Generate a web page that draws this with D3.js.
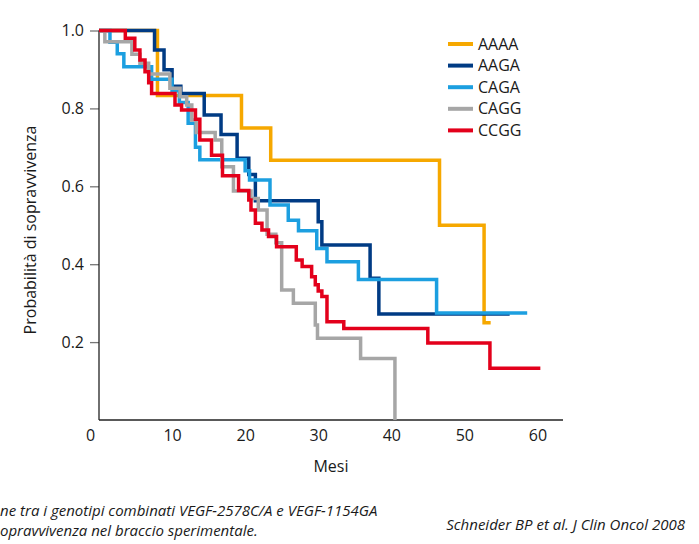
<!DOCTYPE html>
<html lang="it">
<head>
<meta charset="UTF-8">
<title>Sopravvivenza per genotipo</title>
<script src="https://d3js.org/d3.v7.min.js"></script>
<style>
  body { margin: 0; background: #fff; }
  text { font-family: "Liberation Sans Narrow", "Open Sans", sans-serif; fill: #1a1a1a; }
</style>
</head>
<body>
<div id="chart"></div>
<script>
// series: [mesi, probabilita] step points, last point = end of follow-up
const groups = ["AAAA", "AAGA", "CAGA", "CAGG", "CCGG"];
const colors = ["#f6a800", "#003b84", "#1c9fe0", "#a6a6a6", "#e3001b"];

const aaaa = [[0,1],[8.0,0.833],[19.5,0.75],[23.5,0.667],[46.6,0.5],[52.7,0.25],[53.6,0.25]];
const aaga = [[0,1],[7.6,0.95],[8.9,0.899],[10.0,0.857],[11.2,0.838],[14.4,0.783],[16.7,0.733],
  [18.9,0.672],[20.5,0.63],[21.4,0.563],[30.0,0.509],[30.5,0.449],[37.1,0.364],[38.3,0.272],[56.2,0.272]];
const caga = [[0,1],[1.5,0.97],[2.5,0.94],[3.4,0.907],[7.2,0.875],[10.0,0.845],[11.0,0.815],[12.2,0.762],
  [13.2,0.70],[13.8,0.668],[20.0,0.64],[20.6,0.616],[23.4,0.552],[25.9,0.513],[27.3,0.486],[29.8,0.44],
  [31.2,0.406],[35.5,0.361],[46.2,0.275],[58.6,0.275]];
const cagg = [[0,1],[0.8,0.971],[4.5,0.939],[5.6,0.916],[6.8,0.888],[9.7,0.852],[11.1,0.83],[12.0,0.809],
  [12.7,0.77],[13.3,0.738],[15.9,0.719],[16.8,0.65],[18.4,0.588],[20.8,0.569],[21.8,0.539],[23.0,0.477],
  [24.2,0.455],[25.0,0.334],[26.6,0.30],[29.6,0.244],[29.9,0.21],[35.8,0.158],[40.5,0]];
const ccgg = [[0,1],[3.6,0.98],[4.9,0.95],[5.6,0.924],[6.3,0.894],[6.8,0.866],[7.2,0.838],[10.4,0.809],
  [11.3,0.796],[13.2,0.772],[13.8,0.719],[15.4,0.68],[16.9,0.627],[19.1,0.589],[20.5,0.565],[20.8,0.539],
  [21.4,0.505],[22.3,0.488],[23.2,0.471],[24.3,0.445],[27.0,0.411],[27.8,0.394],[29.1,0.368],[29.6,0.347],
  [30.0,0.331],[30.5,0.317],[31.2,0.252],[33.5,0.235],[45.0,0.198],[53.5,0.133],[60.4,0.133]];

const xTicks = [0, 10, 20, 30, 40, 50, 60];
const yTicks = [0.2, 0.4, 0.6, 0.8, 1.0];
const captionLeft = ["ne tra i genotipi combinati VEGF-2578C/A e VEGF-1154GA",
                     "opravvivenza nel braccio sperimentale."];
const captionRight = "Schneider BP et al. J Clin Oncol 2008";

const series = [aaaa, aaga, caga, cagg, ccgg];

const width = 699, height = 544;
const svg = d3.select("#chart").append("svg")
  .attr("width", width)
  .attr("height", height);

const x = d3.scaleLinear().domain([0, 63.5]).range([99, 563]);
const y = d3.scaleLinear().domain([0, 1]).range([420, 30.5]);

// y axis
const yAxis = svg.append("g")
  .attr("transform", "translate(99,0)")
  .call(d3.axisLeft(y).tickValues(yTicks).tickFormat(d3.format(".1f")).tickSize(9).tickPadding(6));
yAxis.select(".domain").remove();
yAxis.selectAll(".tick line").attr("stroke", "#777").attr("stroke-width", 1.3);
yAxis.selectAll(".tick text").style("font-size", "16px");
svg.append("line")
  .attr("x1", 99).attr("x2", 99).attr("y1", y(1)).attr("y2", 420)
  .attr("stroke", "#222").attr("stroke-width", 1.3);

// x axis
const xAxis = svg.append("g")
  .attr("transform", "translate(0,420)")
  .call(d3.axisBottom(x).tickValues(xTicks).tickSize(0).tickPadding(10));
xAxis.select(".domain").remove();
xAxis.selectAll(".tick text").style("font-size", "16px")
  .attr("dx", d => d === 0 ? -9 : 0);
svg.append("line")
  .attr("x1", 99).attr("x2", 563).attr("y1", 420).attr("y2", 420)
  .attr("stroke", "#222").attr("stroke-width", 1.3);

svg.append("text")
  .attr("x", 331).attr("y", 472)
  .attr("text-anchor", "middle")
  .style("font-size", "16px")
  .text("Mesi");

svg.append("text")
  .attr("transform", "translate(36,230) rotate(-90)")
  .attr("text-anchor", "middle")
  .style("font-size", "16px")
  .text("Probabilità di sopravvivenza");

// curves
const line = d3.line()
  .x(d => x(d[0]))
  .y(d => y(d[1]))
  .curve(d3.curveStepAfter);

svg.append("g").selectAll("path")
  .data(series)
  .join("path")
  .attr("d", line)
  .attr("fill", "none")
  .attr("stroke", (d, i) => colors[i])
  .attr("stroke-width", 3.5);

// legend
const legend = svg.append("g").selectAll("g")
  .data(groups)
  .join("g")
  .attr("transform", (d, i) => `translate(448,${44 + i * 21.6})`);
legend.append("line")
  .attr("x1", 0).attr("x2", 25)
  .attr("stroke", (d, i) => colors[i])
  .attr("stroke-width", 4);
legend.append("text")
  .attr("x", 30).attr("dy", "0.35em")
  .style("font-size", "16px")
  .text(d => d);

// captions
svg.append("g").selectAll("text")
  .data(captionLeft)
  .join("text")
  .attr("x", 0).attr("y", (d, i) => 516 + i * 20)
  .style("font-size", "15px").style("font-style", "italic")
  .text(d => d);

svg.append("text")
  .attr("x", 685).attr("y", 530)
  .attr("text-anchor", "end")
  .style("font-size", "15px").style("font-style", "italic")
  .text(captionRight);
</script>
</body>
</html>
